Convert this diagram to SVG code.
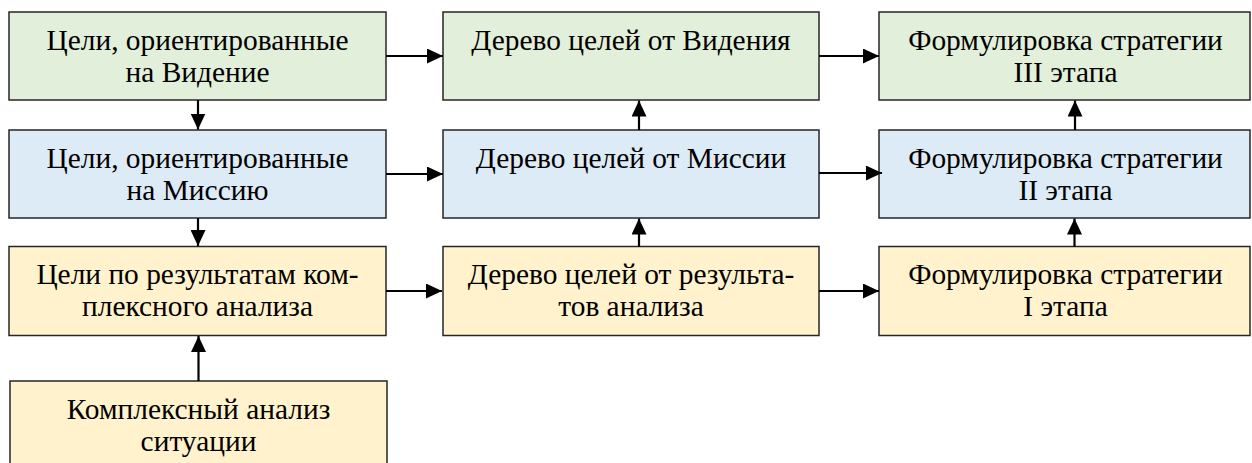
<svg xmlns="http://www.w3.org/2000/svg" width="1252" height="463" viewBox="0 0 1252 463">
<style>
.box{stroke:#262626;stroke-width:1.5}
.g{fill:#E2EFDA}
.b{fill:#DDEBF7}
.y{fill:#FFF2CC}
.c{stroke:#000;stroke-width:2.2;fill:none;marker-end:url(#ah)}
</style>
<defs>
<marker id="ah" viewBox="0 0 16 15" refX="16" refY="7.5" markerWidth="16" markerHeight="15" markerUnits="userSpaceOnUse" orient="auto">
<path d="M0,0 L16,7.5 L0,15 z" fill="#000"/>
</marker>
</defs>
<rect width="1252" height="463" fill="#fff"/>
<g font-family="Liberation Serif, serif" font-size="29.4" fill="#000" text-anchor="middle">
<g id="n1"><rect class="box g" x="9" y="12" width="377" height="88"/><text font-family="Liberation Serif" x="197.5" y="50">Цели, ориентированные</text><text font-family="Liberation Serif" x="197.5" y="82">на Видение</text></g>
<g id="n2"><rect class="box b" x="9" y="130" width="377" height="88"/><text font-family="Liberation Serif" x="197.5" y="168">Цели, ориентированные</text><text font-family="Liberation Serif" x="197.5" y="200">на Миссию</text></g>
<g id="n3"><rect class="box y" x="9" y="246.5" width="377" height="89"/><text font-family="Liberation Serif" x="197.5" y="284">Цели по результатам ком-</text><text font-family="Liberation Serif" x="197.5" y="316">плексного анализа</text></g>
<g id="n4"><rect class="box y" x="10" y="381" width="377" height="90"/><text font-family="Liberation Serif" x="198.5" y="419">Комплексный анализ</text><text font-family="Liberation Serif" x="198.5" y="451">ситуации</text></g>
<g id="n5"><rect class="box g" x="443" y="12" width="376" height="88"/><text font-family="Liberation Serif" x="631" y="50">Дерево целей от Видения</text></g>
<g id="n6"><rect class="box b" x="443" y="130" width="376" height="88"/><text font-family="Liberation Serif" x="631" y="168">Дерево целей от Миссии</text></g>
<g id="n7"><rect class="box y" x="443" y="246.5" width="376" height="89"/><text font-family="Liberation Serif" x="631" y="284">Дерево целей от результа-</text><text font-family="Liberation Serif" x="631" y="316">тов анализа</text></g>
<g id="n8"><rect class="box g" x="879" y="12" width="371" height="88"/><text font-family="Liberation Serif" x="1065.5" y="50">Формулировка стратегии</text><text font-family="Liberation Serif" x="1065.5" y="82">III этапа</text></g>
<g id="n9"><rect class="box b" x="879" y="130" width="371" height="88"/><text font-family="Liberation Serif" x="1065.5" y="168">Формулировка стратегии</text><text font-family="Liberation Serif" x="1065.5" y="200">II этапа</text></g>
<g id="n10"><rect class="box y" x="879" y="246.5" width="371" height="89"/><text font-family="Liberation Serif" x="1065.5" y="284">Формулировка стратегии</text><text font-family="Liberation Serif" x="1065.5" y="316">I этапа</text></g>
</g>
<g id="connectors">
<line class="c" x1="386" y1="56" x2="443" y2="56"/>
<line class="c" x1="819" y1="56" x2="879" y2="56"/>
<line class="c" x1="386" y1="174" x2="443" y2="174"/>
<line class="c" x1="819" y1="173" x2="882" y2="173"/>
<line class="c" x1="386" y1="291" x2="442" y2="291"/>
<line class="c" x1="819" y1="291" x2="879" y2="291"/>
<line class="c" x1="198" y1="100" x2="198" y2="129.5"/>
<line class="c" x1="198" y1="218" x2="198" y2="246"/>
<line class="c" x1="198.5" y1="381" x2="198.5" y2="336"/>
<line class="c" x1="639" y1="130" x2="639" y2="100.5"/>
<line class="c" x1="639" y1="246.5" x2="639" y2="218.5"/>
<line class="c" x1="1075" y1="130" x2="1075" y2="100.5"/>
<line class="c" x1="1074.5" y1="246.5" x2="1074.5" y2="218.5"/>
</g>
</svg>
